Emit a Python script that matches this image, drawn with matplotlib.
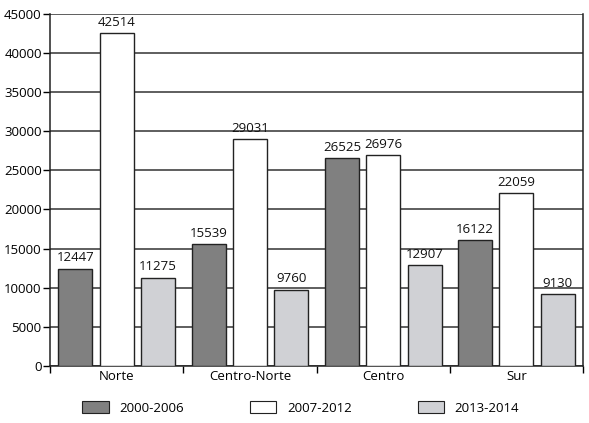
import numpy as np
import matplotlib.pyplot as plt
from matplotlib.patches import Patch

regions = ['Norte', 'Centro-Norte', 'Centro', 'Sur']
periods = ['2000-2006', '2007-2012', '2013-2014']
v_2000_2006 = [12447, 15539, 26525, 16122]
v_2007_2012 = [42514, 29031, 26976, 22059]
v_2013_2014 = [11275, 9760, 12907, 9130]
yticks = [0, 5000, 10000, 15000, 20000, 25000, 30000, 35000, 40000, 45000]

plt.rcParams['font.family'] = ['Open Sans', 'DejaVu Sans']
colors = ['#808080', '#ffffff', '#d0d1d5']
series = [v_2000_2006, v_2007_2012, v_2013_2014]
fs = 9.5

fig = plt.figure(figsize=(5.89, 4.23), dpi=100)
ax = fig.add_axes([0.085, 0.135, 0.905, 0.832])

x = np.arange(len(regions))
width = 0.255
step = 0.31
for i, (vals, col) in enumerate(zip(series, colors)):
    pos = x + (i - 1) * step
    ax.bar(pos, vals, width, color=col, edgecolor='#222222', linewidth=1.0, zorder=3)
    for p, v in zip(pos, vals):
        ax.text(p, v + 550, str(v), ha='center', va='bottom', fontsize=fs, color='#111111', zorder=4)

ax.set_ylim(0, 45000)
ax.set_xlim(-0.5, len(regions) - 0.5)
ax.set_yticks(yticks)
ax.set_yticklabels([str(t) for t in yticks], fontsize=fs)
ax.yaxis.grid(True, color='#333333', linewidth=1.1, zorder=0)
ax.set_axisbelow(True)

ax.set_xticks(x)
ax.set_xticklabels(regions, fontsize=fs)
ax.tick_params(axis='x', length=0, pad=3)
ax.set_xticks(np.arange(len(regions) + 1) - 0.5, minor=True)
ax.tick_params(axis='x', which='minor', length=5, direction='out', width=1)
ax.tick_params(axis='y', length=5, direction='out', width=1, pad=1)

for side in ['left', 'bottom', 'right']:
    ax.spines[side].set_color('#222222')
    ax.spines[side].set_linewidth(1.1)
ax.spines['top'].set_visible(False)

handles = [Patch(facecolor=c, edgecolor='#222222', linewidth=0.8) for c in colors]
fig.legend(handles, periods, loc='center left', ncol=3, frameon=False,
           bbox_to_anchor=(0.14, 0.035), fontsize=fs, handlelength=2.0,
           handleheight=1.0, columnspacing=5.0, handletextpad=0.8,
           borderpad=0, borderaxespad=0)

fig.savefig('out.png', dpi=100)
